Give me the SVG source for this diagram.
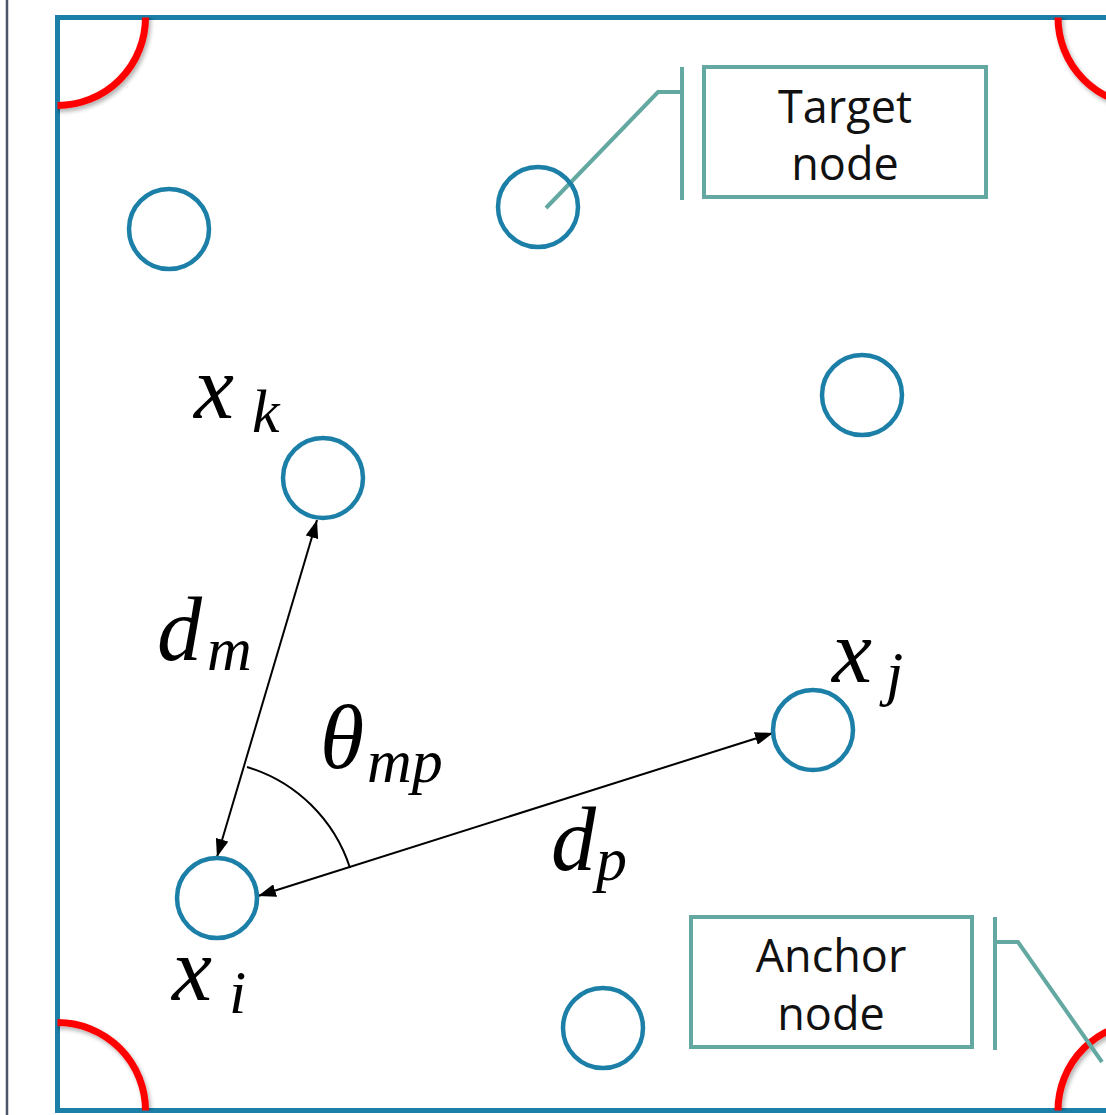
<svg xmlns="http://www.w3.org/2000/svg" width="1106" height="1115" viewBox="0 0 1106 1115">
<style>
.node{fill:none;stroke:#1b7fa8;stroke-width:4.5}
.frame{fill:none;stroke:#1b7fa8;stroke-width:5}
.anchor{fill:none;stroke:#ff0000;stroke-width:7}
.callout{fill:none;stroke:#64a8a2;stroke-width:4}
.box{fill:#ffffff;stroke:#64a8a2;stroke-width:4}
.lbl{font-family:"Open Sans","Noto Sans",sans-serif;font-size:45px;fill:#111;text-anchor:middle}
.math{font-family:"Liberation Serif",serif;font-style:italic;fill:#000}
.big{font-size:90px}
.sub{font-size:62px}
.arrow{stroke:#000;stroke-width:2;fill:none}
</style>
<defs>
<marker id="ah" viewBox="0 0 18 13" refX="18" refY="6.5" markerWidth="18" markerHeight="13" markerUnits="userSpaceOnUse" orient="auto-start-reverse">
<path d="M0,0 L18,6.5 L0,13 Z" fill="#000"/>
</marker>
<clipPath id="inner"><rect x="57.5" y="17.5" width="1088" height="1093"/></clipPath>
<filter id="sh" x="-20%" y="-20%" width="140%" height="140%">
<feDropShadow dx="2" dy="3" stdDeviation="2" flood-color="#000" flood-opacity="0.3"/>
</filter>
</defs>
<rect width="1106" height="1115" fill="#ffffff"/>
<line x1="7" y1="0" x2="7" y2="1115" stroke="#4a5568" stroke-width="2.5"/>
<rect class="frame" x="57.5" y="17.5" width="1088" height="1093"/>
<g id="anchors" clip-path="url(#inner)" filter="url(#sh)">
<circle class="anchor" cx="57.5" cy="17.5" r="88"/>
<circle class="anchor" cx="1146" cy="17.5" r="88"/>
<circle class="anchor" cx="57.5" cy="1110.5" r="88"/>
<circle class="anchor" cx="1146" cy="1110.5" r="88"/>
</g>
<g id="connectors">
<line class="arrow" x1="317" y1="520" x2="217" y2="857" marker-start="url(#ah)" marker-end="url(#ah)"/>
<line class="arrow" x1="773" y1="733" x2="258" y2="896" marker-start="url(#ah)" marker-end="url(#ah)"/>
<path class="arrow" d="M247,767 A155,155 0 0 1 350,868"/>
<polyline class="callout" points="546,208 658,92 682,92"/>
<line class="callout" x1="682" y1="67" x2="682" y2="200"/>
<polyline class="callout" points="1102,1062 1018,942 995,942"/>
<line class="callout" x1="995" y1="917" x2="995" y2="1050"/>
</g>
<g id="node-a"><circle class="node" cx="169" cy="229" r="40"/></g>
<g id="node-target"><circle class="node" cx="538" cy="207" r="40"/></g>
<g id="node-b"><circle class="node" cx="862" cy="395" r="40"/></g>
<g id="node-xk"><circle class="node" cx="323" cy="478" r="40"/>
<text class="math big" x="194" y="418">x</text><text class="math sub" x="252" y="432">k</text></g>
<g id="node-xj"><circle class="node" cx="813" cy="730" r="40"/>
<text class="math big" x="832" y="682">x</text><text class="math sub" x="886" y="694">j</text></g>
<g id="node-xi"><circle class="node" cx="217" cy="898" r="40"/>
<text class="math big" x="172" y="1000">x</text><text class="math sub" x="229" y="1013">i</text></g>
<g id="node-c"><circle class="node" cx="603" cy="1028" r="40"/></g>
<g id="label-dm"><text class="math big" x="157" y="660">d</text><text class="math sub" x="207" y="670">m</text></g>
<g id="label-dp"><text class="math big" x="551" y="870">d</text><text class="math sub" x="596" y="880">p</text></g>
<g id="label-theta"><text class="math big" x="320" y="768">θ</text><text class="math sub" x="367" y="782">mp</text></g>
<g id="target-label">
<rect class="box" x="704" y="67" width="282" height="130"/>
<text class="lbl" x="845" y="123">Target</text>
<text class="lbl" x="845" y="180">node</text>
</g>
<g id="anchor-label">
<rect class="box" x="691" y="917" width="281" height="130"/>
<text class="lbl" x="831" y="972">Anchor</text>
<text class="lbl" x="831" y="1030">node</text>
</g>
</svg>
